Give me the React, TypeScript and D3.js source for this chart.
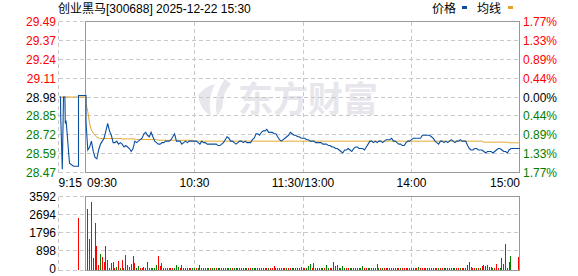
import React from 'react';
import * as d3 from 'd3';

const W = 578;
const H = 276;

const title = '创业黑马[300688] 2025-12-22 15:30';
const legendLabels = ['价格', '均线'];
const prevClose = 28.98;
const maxPct = 1.77;
const priceLabels = ['29.49', '29.37', '29.24', '29.11', '28.98', '28.85', '28.72', '28.59', '28.47'];
const pctLabels = ['1.77%', '1.33%', '0.89%', '0.44%', '0.00%', '0.44%', '0.89%', '1.33%', '1.77%'];
const volTicks = [3592, 2694, 1796, 898, 0];
const volMax = 3592;
const timeLabels = ['9:15', '09:30', '10:30', '11:30/13:00', '14:00', '15:00'];
const timeMinutes = [-15, 0, 60, 120, 180, 240];
const gridMinutes = [60, 120, 180];

// pre-market (call auction), minutes after 9:15
const preTimes = [0.6, 1.0, 1.1, 1.9, 2.5, 3.2, 3.4, 3.8, 5.5, 7.5, 10, 10, 15];
const prePrices = [28.98, 28.98, 28.85, 28.49, 28.98, 28.98, 28.8, 28.82, 28.53, 28.51, 28.51, 28.99, 28.99];
const preAvgTimes = [0.6, 15];
const preAvgPrices = [28.98, 28.98];
const preVolTimes = [10];
const preVolumes = [2535];

// one value per trading minute, 09:30 .. 15:00
const prices = [
  28.81, 28.62, 28.64, 28.68, 28.61, 28.57, 28.56, 28.62, 28.66, 28.68,
  28.70, 28.75, 28.80, 28.75, 28.72, 28.67, 28.67, 28.68, 28.66, 28.67,
  28.66, 28.64, 28.65, 28.64, 28.63, 28.61, 28.63, 28.68, 28.67, 28.68,
  28.69, 28.70, 28.73, 28.74, 28.72, 28.71, 28.74, 28.71, 28.68, 28.67,
  28.66, 28.66, 28.67, 28.67, 28.68, 28.68, 28.68, 28.69, 28.71, 28.73,
  28.68, 28.68, 28.68, 28.66, 28.67, 28.68, 28.67, 28.68, 28.68, 28.68,
  28.68, 28.68, 28.67, 28.66, 28.68, 28.67, 28.67, 28.66, 28.66, 28.66,
  28.66, 28.66, 28.66, 28.65, 28.65, 28.66, 28.67, 28.69, 28.71, 28.70,
  28.68, 28.68, 28.67, 28.66, 28.67, 28.68, 28.68, 28.67, 28.68, 28.67,
  28.67, 28.67, 28.69, 28.70, 28.73, 28.73, 28.72, 28.74, 28.75, 28.75,
  28.76, 28.74, 28.74, 28.74, 28.73, 28.73, 28.71, 28.69, 28.68, 28.69,
  28.70, 28.71, 28.72, 28.74, 28.73, 28.72, 28.72, 28.71, 28.71, 28.70,
  28.70, 28.70, 28.69, 28.69, 28.68, 28.68, 28.68, 28.67, 28.67, 28.67,
  28.67, 28.66, 28.66, 28.66, 28.65, 28.65, 28.64, 28.64, 28.63, 28.63,
  28.62, 28.61, 28.60, 28.62, 28.62, 28.63, 28.62, 28.61, 28.63, 28.64,
  28.64, 28.63, 28.63, 28.63, 28.62, 28.64, 28.66, 28.68, 28.68, 28.67,
  28.68, 28.67, 28.68, 28.68, 28.67, 28.68, 28.69, 28.69, 28.69, 28.70,
  28.68, 28.68, 28.67, 28.66, 28.66, 28.65, 28.65, 28.67, 28.68, 28.68,
  28.69, 28.70, 28.70, 28.70, 28.70, 28.70, 28.72, 28.72, 28.72, 28.72,
  28.72, 28.71, 28.70, 28.68, 28.67, 28.66, 28.68, 28.68, 28.67, 28.68,
  28.67, 28.68, 28.69, 28.68, 28.67, 28.68, 28.68, 28.69, 28.68, 28.68,
  28.68, 28.65, 28.63, 28.62, 28.62, 28.63, 28.63, 28.62, 28.62, 28.62,
  28.61, 28.60, 28.61, 28.61, 28.61, 28.60, 28.61, 28.62, 28.63, 28.63,
  28.62, 28.61, 28.61, 28.60, 28.62, 28.63, 28.63, 28.63, 28.63, 28.63,
  28.63,
];

const avgPrices = [
  28.936, 28.880, 28.800, 28.755, 28.735, 28.720, 28.708, 28.702, 28.698, 28.698,
  28.698, 28.698, 28.698, 28.698, 28.698, 28.698, 28.698, 28.698, 28.698, 28.698,
  28.695, 28.695, 28.695, 28.695, 28.695, 28.695, 28.695, 28.695, 28.691, 28.691,
  28.691, 28.691, 28.691, 28.691, 28.691, 28.691, 28.691, 28.691, 28.691, 28.691,
  28.686, 28.686, 28.686, 28.686, 28.686, 28.686, 28.686, 28.686, 28.686, 28.686,
  28.686, 28.686, 28.686, 28.686, 28.686, 28.686, 28.686, 28.686, 28.686, 28.686,
  28.680, 28.680, 28.680, 28.680, 28.680, 28.680, 28.680, 28.680, 28.680, 28.680,
  28.680, 28.680, 28.680, 28.680, 28.680, 28.680, 28.680, 28.680, 28.680, 28.680,
  28.680, 28.680, 28.680, 28.680, 28.680, 28.680, 28.680, 28.680, 28.680, 28.680,
  28.680, 28.680, 28.680, 28.680, 28.680, 28.680, 28.680, 28.680, 28.680, 28.680,
  28.680, 28.680, 28.680, 28.680, 28.680, 28.680, 28.680, 28.680, 28.680, 28.680,
  28.680, 28.680, 28.680, 28.680, 28.680, 28.680, 28.680, 28.680, 28.680, 28.680,
  28.680, 28.680, 28.680, 28.680, 28.680, 28.680, 28.680, 28.680, 28.680, 28.680,
  28.680, 28.680, 28.680, 28.680, 28.680, 28.680, 28.680, 28.680, 28.680, 28.680,
  28.680, 28.680, 28.680, 28.680, 28.680, 28.680, 28.680, 28.680, 28.680, 28.680,
  28.680, 28.680, 28.680, 28.680, 28.680, 28.680, 28.680, 28.680, 28.680, 28.680,
  28.680, 28.680, 28.680, 28.680, 28.680, 28.680, 28.680, 28.680, 28.680, 28.680,
  28.680, 28.680, 28.680, 28.680, 28.680, 28.680, 28.680, 28.680, 28.680, 28.680,
  28.680, 28.680, 28.680, 28.680, 28.680, 28.680, 28.680, 28.680, 28.680, 28.680,
  28.680, 28.680, 28.680, 28.680, 28.680, 28.680, 28.680, 28.680, 28.680, 28.680,
  28.680, 28.680, 28.680, 28.680, 28.680, 28.680, 28.680, 28.680, 28.680, 28.680,
  28.680, 28.680, 28.680, 28.680, 28.680, 28.680, 28.680, 28.680, 28.680, 28.680,
  28.673, 28.673, 28.673, 28.673, 28.673, 28.673, 28.673, 28.673, 28.673, 28.673,
  28.673, 28.673, 28.673, 28.673, 28.669, 28.669, 28.669, 28.669, 28.669, 28.669,
  28.669,
];

const volumes = [
  0, 2986, 1472, 3318, 539, 2287, 1123, 174, 724, 591,
  341, 1123, 424, 41, 291, 341, 8, 58, 375, 5,
  424, 5, 674, 175, 58, 224, 624, 291, 5, 125,
  8, 5, 58, 28, 341, 10, 10, 10, 5, 175,
  624, 125, 257, 10, 10, 5, 15, 5, 15, 10,
  175, 92, 10, 175, 5, 5, 10, 25, 5, 25,
  5, 5, 5, 175, 5, 5, 5, 41, 10, 5,
  10, 5, 15, 5, 5, 10, 5, 15, 10, 5,
  5, 10, 5, 5, 5, 10, 5, 5, 10, 5,
  30, 5, 10, 15, 5, 5, 5, 10, 5, 5,
  5, 10, 5, 5, 125, 5, 10, 5, 5, 5,
  5, 5, 5, 5, 10, 5, 5, 5, 5, 92,
  5, 5, 10, 125, 224, 15, 291, 5, 41, 5,
  5, 10, 5, 175, 5, 5, 5, 341, 125, 175,
  5, 10, 125, 5, 5, 5, 10, 41, 41, 5,
  5, 5, 5, 125, 5, 5, 5, 5, 5, 5,
  5, 224, 5, 5, 5, 5, 5, 5, 5, 10,
  5, 41, 5, 5, 5, 15, 5, 5, 5, 5,
  5, 5, 5, 5, 59, 5, 41, 5, 5, 5,
  5, 5, 5, 5, 5, 5, 5, 5, 5, 5,
  5, 5, 5, 5, 5, 5, 5, 5, 5, 10,
  5, 175, 341, 92, 15, 41, 5, 5, 10, 125,
  175, 140, 175, 60, 59, 5, 5, 224, 5, 41,
  524, 224, 1222, 8, 341, 624, 0, 0, 0, 573,
  0,
];

// R = up minute (red), G = down minute (green)
const volDirs = (
  'RGRGGGRRGR' + 'RRGGGGRGRG' + 'RRGRRGRRGG' + 'RRRRGRGGGG' + 'RRRRRRRRRG' +
  'GGRGGRGRRG' + 'GRGRRGRGGR' + 'GGRGRRRRRG' + 'GRGGRRGRGG' + 'RRGGRGRGGR' +
  'RGRRRGGGRR' + 'RGRRGRRGRR' + 'RRGGGRGRGR' + 'RGRGGRGGGR' + 'RGGGRRGRRR' +
  'GRGGRRGRGR' + 'GGGRGRRGRR' + 'GGRRGRRRGR' + 'RGRRGRRRGR' + 'RGRGRGRRGR' +
  'RGRRGRRGRG' + 'GGGRRRGRGR' + 'GGRRRGRRRG' + 'GRGRRGRRRR' + 'R'
).split('');
const preVolDirs = ['R'];

const FONT = '"Liberation Sans", Arial, "Noto Sans CJK SC", sans-serif';
const CJK = '"Noto Sans CJK SC", "Liberation Sans", sans-serif';
const RED = '#ff0000';
const GREEN = '#008000';
const BLUE = '#0a4fa0';
const GOLD = '#e2a428';
const GRID = '#c8c8c8';
const BORDER = '#999999';

const PRE_LEFT = 58.5;
const LEFT = 85.5;
const RIGHT = 519.5;
const TOP = 21.5;
const BOTTOM = 172.5;
const VTOP = 196.5;
const VBOTTOM = 270.5;

export default function App() {
  const xs = d3.scaleLinear().domain([0, 240]).range([86, 520]);
  const xPre = d3.scaleLinear().domain([0, 10, 15]).range([PRE_LEFT, 78.5, 86]);
  const lo = prevClose * (1 - maxPct / 100);
  const hi = prevClose * (1 + maxPct / 100);
  const ys = d3.scaleLinear().domain([lo, hi]).range([BOTTOM, TOP]);
  const vs = d3.scaleLinear().domain([0, volMax]).range([268.5, VTOP]);

  const gridVals = d3.range(priceLabels.length).map((k) => hi - (k * (hi - lo)) / (priceLabels.length - 1));

  const line = d3.line<[number, number]>().x((d) => d[0]).y((d) => d[1]);

  const pricePts: [number, number][] = [
    ...preTimes.map((t, i) => [xPre(t), ys(prePrices[i])] as [number, number]),
    ...prices.map((p, i) => [xs(i), ys(p)] as [number, number]),
  ];
  const avgPts: [number, number][] = [
    ...preAvgTimes.map((t, i) => [xPre(t), ys(preAvgPrices[i])] as [number, number]),
    ...avgPrices.map((p, i) => [xs(i), ys(p)] as [number, number]),
  ];

  const labelColor = (k: number, n: number) => (k < (n - 1) / 2 ? RED : k === (n - 1) / 2 ? '#000' : GREEN);

  const timeX = (m: number) => (m < 0 ? xPre(m + 15) : m === 0 ? 87 : xs(m));
  const timeAnchor = (k: number) => (k <= 1 ? 'start' : k === timeLabels.length - 1 ? 'end' : 'middle');

  return (
    <svg width={W} height={H} style={{ position: 'absolute', left: 0, top: 0, background: '#fff' }} fontFamily={FONT}>
      <rect x={0} y={0} width={W} height={H} fill="#fff" />

      {/* watermark */}
      <g fill="#e6e6ec">
        <path d="M198 95 Q204 87 215 84 Q207 98 211 116 Q200 110 198 95 Z" />
        <path d="M225 79 Q213 95 217 116 Q222 111 223 103 Q223 92 231 84 Z" />
        <text x={238} y={112} fontSize={35} fontWeight="bold" fontFamily={CJK}>东方财富</text>
      </g>

      {/* price grid */}
      <g stroke={GRID} strokeDasharray="4,3" shapeRendering="crispEdges" fill="none">
        {gridVals.map((v, k) => (
          <line key={'h' + k} x1={PRE_LEFT} x2={RIGHT} y1={ys(v)} y2={ys(v)} />
        ))}
        <line x1={PRE_LEFT} x2={PRE_LEFT} y1={TOP} y2={BOTTOM} />
        {gridMinutes.map((m) => (
          <line key={'v' + m} x1={Math.floor(xs(m)) + 0.5} x2={Math.floor(xs(m)) + 0.5} y1={TOP} y2={BOTTOM} />
        ))}
        {volTicks.map((v, k) => (
          <line key={'vh' + k} x1={PRE_LEFT} x2={RIGHT} y1={v === 0 ? VBOTTOM : vs(v)} y2={v === 0 ? VBOTTOM : vs(v)} />
        ))}
        <line x1={PRE_LEFT} x2={PRE_LEFT} y1={VTOP} y2={VBOTTOM} />
        {gridMinutes.map((m) => (
          <line key={'vv' + m} x1={Math.floor(xs(m)) + 0.5} x2={Math.floor(xs(m)) + 0.5} y1={VTOP} y2={VBOTTOM} />
        ))}
      </g>

      {/* borders */}
      <g stroke={BORDER} fill="none" shapeRendering="crispEdges">
        <rect x={LEFT} y={TOP} width={RIGHT - LEFT} height={BOTTOM - TOP} />
        <rect x={LEFT} y={VTOP} width={RIGHT - LEFT} height={VBOTTOM - VTOP} />
      </g>

      {/* volume bars */}
      <g shapeRendering="crispEdges">
        {preVolumes.map((v, i) => (
          <rect key={'pv' + i} x={Math.floor(xPre(preVolTimes[i]))} width={1} y={vs(v)} height={270 - vs(v)}
            fill={preVolDirs[i] === 'R' ? RED : GREEN} />
        ))}
        {volumes.map((v, i) =>
          v > 0 ? (
            <rect key={'v' + i} x={Math.floor(xs(i))} width={1} y={vs(v)} height={270 - vs(v)}
              fill={volDirs[i] === 'R' ? RED : GREEN} />
          ) : null
        )}
      </g>

      {/* lines */}
      <path d={line(avgPts) || ''} fill="none" stroke={GOLD} strokeWidth={1} />
      <path d={line(pricePts) || ''} fill="none" stroke={BLUE} strokeWidth={1.1} />

      {/* left price labels */}
      <g fontSize={12} textAnchor="end">
        {priceLabels.map((s, k) => (
          <text key={'pl' + k} x={56} y={ys(gridVals[k]) + 4.5} fill={labelColor(k, priceLabels.length)}>{s}</text>
        ))}
      </g>
      {/* right pct labels */}
      <g fontSize={12} textAnchor="start">
        {pctLabels.map((s, k) => (
          <text key={'pr' + k} x={523} y={ys(gridVals[k]) + 4.5} fill={labelColor(k, pctLabels.length)}>{s}</text>
        ))}
      </g>
      {/* volume labels */}
      <g fontSize={12} textAnchor="end" fill="#000">
        {volTicks.map((v, k) => (
          <text key={'vl' + k} x={56} y={vs(v) + 4.5}>{String(v)}</text>
        ))}
      </g>
      {/* time labels */}
      <g fontSize={12} fill="#000">
        {timeLabels.map((s, k) => (
          <text key={'t' + k} x={timeMinutes[k] === 240 ? 520 : timeX(timeMinutes[k])} y={187} textAnchor={timeAnchor(k)}>{s}</text>
        ))}
      </g>

      {/* title and legend */}
      <text x={58} y={13} fontSize={12} fill="#000">{title}</text>
      <text x={432} y={13} fontSize={12} fill="#000" fontFamily={CJK}>{legendLabels[0]}</text>
      <rect x={462} y={6} width={5} height={3} fill={BLUE} />
      <text x={477} y={13} fontSize={12} fill="#000" fontFamily={CJK}>{legendLabels[1]}</text>
      <rect x={508} y={6} width={5} height={3} fill={GOLD} />
    </svg>
  );
}
